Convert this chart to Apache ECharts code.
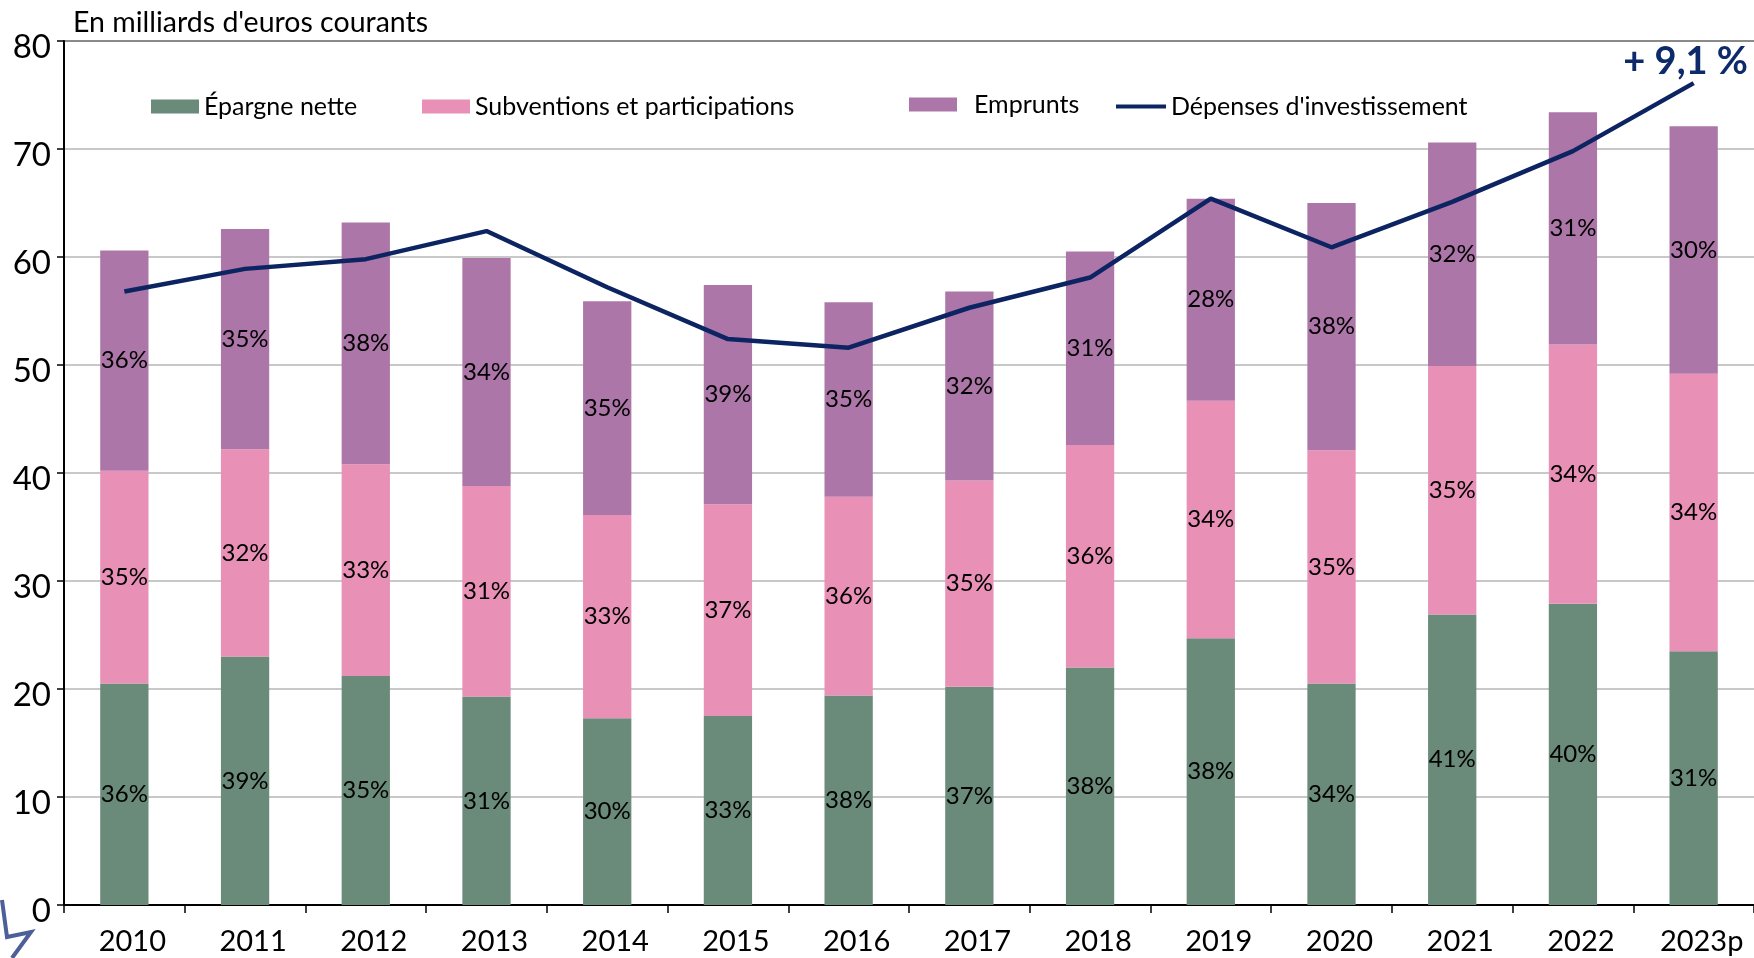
<!DOCTYPE html>
<html>
<head>
<meta charset="utf-8">
<script src="https://cdn.jsdelivr.net/npm/echarts@6/dist/echarts.min.js"></script>
<style>
html,body{margin:0;padding:0;background:#fff;}
#chart{width:1754px;height:958px;}
</style>
</head>
<body>
<div id="chart"></div>
<script>
var categories = ['2010','2011','2012','2013','2014','2015','2016','2017','2018','2019','2020','2021','2022','2023p'];
var epargneNette = [20.5, 23.0, 21.2, 19.3, 17.3, 17.5, 19.4, 20.2, 22.0, 24.7, 20.5, 26.9, 27.9, 23.5];
var subventions = [19.7, 19.2, 19.6, 19.5, 18.8, 19.6, 18.4, 19.1, 20.6, 22.0, 21.6, 23.0, 24.0, 25.7];
var emprunts = [20.4, 20.4, 22.4, 21.1, 19.8, 20.3, 18.0, 17.5, 17.9, 18.7, 22.9, 20.7, 21.5, 22.9];
var depenses = [56.8, 58.9, 59.8, 62.4, 57.2, 52.4, 51.6, 55.3, 58.1, 65.4, 60.9, 65.1, 69.8, 76.1];
var epargnePct = ['36%','39%','35%','31%','30%','33%','38%','37%','38%','38%','34%','41%','40%','31%'];
var subventionsPct = ['35%','32%','33%','31%','33%','37%','36%','35%','36%','34%','35%','35%','34%','34%'];
var empruntsPct = ['36%','35%','38%','34%','35%','39%','35%','32%','31%','28%','38%','32%','31%','30%'];
var yTicks = [0, 10, 20, 30, 40, 50, 60, 70, 80];
var variationLabel = '+ 9,1 %';
var unitLabel = "En milliards d'euros courants";

var FONT = 'Lato';
var COL_G = '#6a8a7a', COL_P = '#e890b6', COL_V = '#ac76a8', COL_L = '#0c2461';

function barData(vals, labels) {
  return vals.map(function (v, i) { return { value: v, pct: labels[i] }; });
}
var pctLabel = {
  show: true, position: 'inside', color: '#000', fontFamily: FONT, fontSize: 24,
  formatter: function (p) { return p.data.pct; }
};
var lastIdx = depenses.length - 1;

var chart = echarts.init(document.getElementById('chart'), null, { renderer: 'canvas' });
var legendText = { color: '#000', fontFamily: FONT, fontSize: 25 };
function leg(name, left, top, w, h, extra) {
  return { data: [name], left: left, top: top, padding: 0, itemWidth: w, itemHeight: h, icon: 'rect',
    textStyle: Object.assign({}, legendText, extra || {}) };
}
chart.setOption({
  animation: false,
  backgroundColor: '#fff',
  textStyle: { fontFamily: FONT },
  title: { text: unitLabel, left: 73, top: 8, padding: 0, textStyle: { fontFamily: FONT, fontSize: 28.5, fontWeight: 'normal', color: '#000' } },
  legend: [
    leg('Épargne nette', 151, 94, 48, 14),
    leg('Subventions et participations', 422, 94, 48, 14),
    leg('Emprunts', 909, 92, 48, 14, { padding: [0, 0, 0, 12] }),
    leg("Dépenses d'investissement", 1116, 94, 50, 4)
  ],
  graphic: [
    { type: 'polyline', shape: { points: [[2, 900], [7, 937], [31, 932], [12, 958]] },
      style: { stroke: '#4d5f98', lineWidth: 4, fill: null }, silent: true }
  ],
  grid: { left: 64, top: 41, right: -2, bottom: 53, containLabel: false },
  xAxis: {
    type: 'category', data: categories, boundaryGap: true,
    axisLine: { lineStyle: { color: '#000', width: 2 } },
    axisTick: { show: true, interval: 0, length: 8, lineStyle: { color: '#000', width: 1.5 } },
    axisLabel: { interval: 0, color: '#000', fontFamily: FONT, fontSize: 29, margin: 22,
      formatter: function (v) { return '{a|' + v + '}'; },
      rich: { a: { fontFamily: FONT, fontSize: 29, color: '#000', padding: [0, 0, 0, 16] } } }
  },
  yAxis: {
    type: 'value', min: yTicks[0], max: yTicks[yTicks.length - 1], interval: 10,
    axisLine: { show: true, lineStyle: { color: '#000', width: 2 } },
    axisTick: { show: true, length: 7, lineStyle: { color: '#000', width: 1.5 } },
    axisLabel: { color: '#000', fontFamily: FONT, fontSize: 33, margin: 13,
      formatter: function (v) { return '{a|' + v + '}'; },
      rich: { a: { fontFamily: FONT, fontSize: 33, color: '#000', padding: [12, 0, 0, 0] } } },
    splitLine: { show: true, lineStyle: { color: ['#c8c8c8','#c8c8c8','#c8c8c8','#c8c8c8','#c8c8c8','#c8c8c8','#c8c8c8','#c8c8c8','#8a8a8a'], width: 2 } }
  },
  series: [
    { name: 'Épargne nette', type: 'bar', stack: 'r', barWidth: '40%', itemStyle: { color: COL_G }, label: pctLabel, data: barData(epargneNette, epargnePct) },
    { name: 'Subventions et participations', type: 'bar', stack: 'r', barWidth: '40%', itemStyle: { color: COL_P }, label: pctLabel, data: barData(subventions, subventionsPct) },
    { name: 'Emprunts', type: 'bar', stack: 'r', barWidth: '40%', itemStyle: { color: COL_V }, label: pctLabel, data: barData(emprunts, empruntsPct) },
    { name: "Dépenses d'investissement", type: 'line', data: depenses, symbol: 'none', showSymbol: false,
      lineStyle: { color: COL_L, width: 4.5 }, itemStyle: { color: COL_L }, z: 5,
      markPoint: {
        symbol: 'circle', symbolSize: 1, itemStyle: { color: 'rgba(0,0,0,0)' },
        data: [{ coord: [categories[lastIdx], depenses[lastIdx]],
          label: { show: true, position: 'top', distance: 2, offset: [-8, 0], formatter: variationLabel,
            color: '#0d2a6b', fontFamily: FONT, fontWeight: 'bold', fontSize: 38 } }]
      } }
  ]
});
</script>
</body>
</html>
